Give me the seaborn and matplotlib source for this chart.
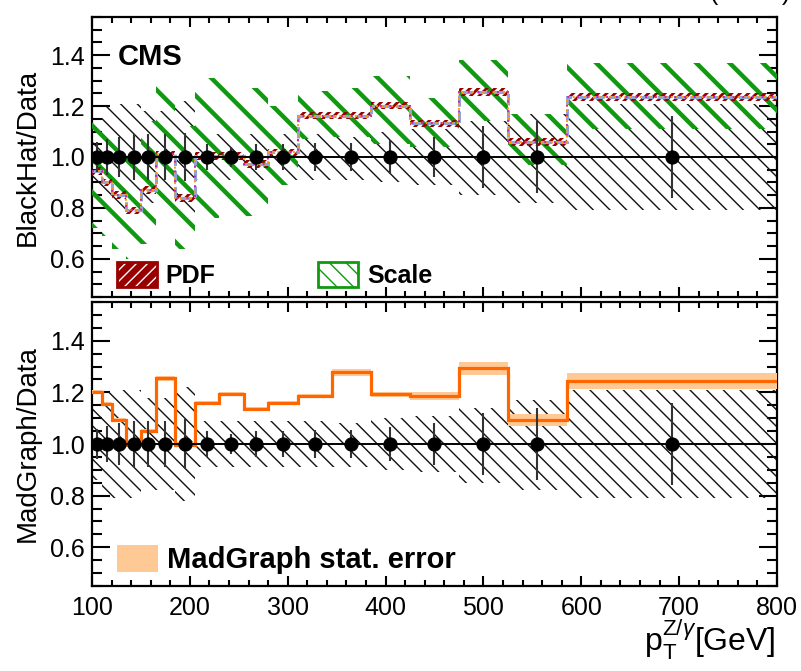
import numpy as np
import pandas as pd
import matplotlib
matplotlib.use("Agg")
import matplotlib.pyplot as plt
import seaborn as sns
from matplotlib.patches import Patch
from matplotlib.legend_handler import HandlerTuple
from matplotlib.ticker import MultipleLocator

# ---------------- data ----------------
bin_edges = [100, 110, 120, 135, 150, 165, 185, 205, 230, 255, 280, 310,
             345, 385, 425, 475, 525, 585, 800]

# data points (ratio = 1) and their statistical error bars
data_err = [0.06, 0.07, 0.08, 0.09, 0.09, 0.09, 0.095, 0.05, 0.04, 0.05,
            0.05, 0.055, 0.055, 0.065, 0.08, 0.12, 0.14, 0.16]
# data systematic band (black hatch)
data_lo = [0.86, 0.80, 0.79, 0.79, 0.82, 0.82, 0.78, 0.91, 0.91, 0.91,
           0.91, 0.91, 0.91, 0.90, 0.89, 0.85, 0.82, 0.79]
data_hi = [1.15, 1.20, 1.21, 1.21, 1.18, 1.18, 1.22, 1.09, 1.09, 1.09,
           1.09, 1.09, 1.08, 1.10, 1.11, 1.14, 1.17, 1.21]

# BlackHat / Data
bh_ratio = [0.945, 0.90, 0.85, 0.79, 0.87, 1.01, 0.84, 1.005, 1.005, 0.973,
            1.018, 1.163, 1.163, 1.202, 1.132, 1.256, 1.06, 1.236]
pdf_err = [0.015] * 18
scale_lo = [0.72, 0.69, 0.64, 0.60, 0.66, 0.76, 0.64, 0.76, 0.77, 0.77,
            0.89, 1.07, 1.08, 1.05, 1.04, 1.14, 0.97, 1.11]
scale_hi = [1.18, 1.15, 1.10, 1.04, 1.14, 1.31, 1.12, 1.31, 1.29, 1.27,
            1.20, 1.26, 1.27, 1.32, 1.23, 1.38, 1.17, 1.37]

# MadGraph / Data
mg_ratio = [1.20, 1.156, 1.093, 0.995, 1.05, 1.254, 0.998, 1.16, 1.194, 1.137,
            1.16, 1.186, 1.277, 1.193, 1.186, 1.294, 1.093, 1.244]
mg_err = [0.008, 0.008, 0.008, 0.008, 0.008, 0.01, 0.008, 0.008, 0.008, 0.008,
          0.008, 0.008, 0.012, 0.01, 0.014, 0.025, 0.024, 0.03]

x_ticks = [100, 200, 300, 400, 500, 600, 700, 800]
y_ticks = [0.6, 0.8, 1.0, 1.2, 1.4]
y_ticklabels = ["0.6", "0.8", "1.0", "1.2", "1.4"]

# ---------------- style ----------------
sns.set_theme(style="ticks")
plt.rcParams["font.family"] = ["Liberation Sans", "DejaVu Sans"]
plt.rcParams["mathtext.fontset"] = "custom"
plt.rcParams["mathtext.rm"] = "Liberation Sans"
plt.rcParams["mathtext.it"] = "Liberation Sans:italic"
plt.rcParams["mathtext.bf"] = "Liberation Sans:bold"
plt.rcParams["text.color"] = "black"
plt.rcParams["axes.labelcolor"] = "black"
plt.rcParams["xtick.color"] = "black"
plt.rcParams["ytick.color"] = "black"
plt.rcParams["axes.edgecolor"] = "black"

GREEN = "#119a11"
DARKRED = "#990000"
ORANGE = "#ff6600"
BAND = "#ffc995"

edges = np.array(bin_edges, dtype=float)
centers = 0.5 * (edges[:-1] + edges[1:])
df = pd.DataFrame({"pt": centers, "ratio": np.ones(len(centers)), "err": data_err})

fig = plt.figure(figsize=(8.01, 6.71), dpi=100)
W, H = 801.0, 671.0
ax1 = fig.add_axes([92 / W, 1 - 297 / H, 685 / W, 280 / H])
ax2 = fig.add_axes([92 / W, 1 - 586 / H, 685 / W, 284 / H])


def hatched_band(ax, lo, hi, color, hatch, hlw, z, fc="none"):
    with plt.rc_context({"hatch.linewidth": hlw}):
        p = ax.stairs(hi, edges, baseline=lo, fill=True, facecolor=fc,
                      edgecolor=color, hatch=hatch, linewidth=0, zorder=z)
    try:
        p.set_hatch_linewidth(hlw)
    except AttributeError:
        pass
    return p


def draw_points(ax):
    ax.axhline(1.0, color="black", lw=1.4, zorder=8)
    ax.errorbar(df["pt"], df["ratio"], yerr=df["err"], fmt="none",
                ecolor="#333333", elinewidth=1.5, capsize=0, zorder=9)
    sns.scatterplot(data=df, x="pt", y="ratio", ax=ax, color="black",
                    edgecolor="black", s=90, zorder=10, legend=False)


# ---------------- top panel ----------------
hatched_band(ax1, data_lo, data_hi, "#111111", "\\\\", 1.0, 2)
hatched_band(ax1, scale_lo, scale_hi, GREEN, "\\", 3.2, 3)
pdf_lo = [v - e for v, e in zip(bh_ratio, pdf_err)]
pdf_hi = [v + e for v, e in zip(bh_ratio, pdf_err)]
hatched_band(ax1, pdf_lo, pdf_hi, DARKRED, "////", 2.0, 4)
ax1.stairs(bh_ratio, edges, baseline=None, color="#8fa3d8", ls="--", lw=2.2, zorder=5)
ax1.stairs(bh_ratio, edges, baseline=None, color="#ff9a00", ls=":", lw=1.4, zorder=6)
ax1.stairs(bh_ratio, edges, baseline=None, color="#cc22bb", ls=(0, (1, 4)), lw=1.4, zorder=6)
draw_points(ax1)

ax1.text((118 - 92) / 685, (297 - 65) / 280, "CMS", transform=ax1.transAxes,
         fontsize=21, fontweight="bold", ha="left", va="baseline")

with plt.rc_context({"hatch.linewidth": 2.0}):
    pdf_fill = Patch(facecolor=DARKRED, edgecolor="white", hatch="///", lw=0)
pdf_edge = Patch(facecolor="none", edgecolor=DARKRED, lw=2)
with plt.rc_context({"hatch.linewidth": 2.5}):
    scale_handle = Patch(facecolor="white", edgecolor=GREEN, hatch="\\\\", lw=2)
ax1.legend([(pdf_fill, pdf_edge), scale_handle], ["PDF", "Scale"],
           handler_map={tuple: HandlerTuple(ndivide=1, pad=0)},
           ncol=2, loc="lower left", bbox_to_anchor=((117 - 92) / 685, (297 - 288) / 280),
           borderaxespad=0, borderpad=0, frameon=False,
           prop={"weight": "bold", "size": 18},
           handlelength=1.6, handleheight=1.2, handletextpad=0.35, columnspacing=4.1)

# ---------------- bottom panel ----------------
hatched_band(ax2, data_lo, data_hi, "#111111", "\\\\", 1.0, 2)
mg_lo = [v - e for v, e in zip(mg_ratio, mg_err)]
mg_hi = [v + e for v, e in zip(mg_ratio, mg_err)]
ax2.stairs(mg_hi, edges, baseline=mg_lo, fill=True, color=BAND, lw=0, zorder=4)
ax2.stairs(mg_ratio, edges, baseline=None, color=ORANGE, lw=2.3, zorder=5)
draw_points(ax2)

ax2.legend([Patch(facecolor=BAND, edgecolor="none")], ["MadGraph stat. error"],
           loc="lower left", bbox_to_anchor=((117 - 92) / 685, (586 - 574) / 284),
           borderaxespad=0, borderpad=0, frameon=False,
           prop={"weight": "bold", "size": 21},
           handlelength=1.4, handleheight=1.05, handletextpad=0.3)

# ---------------- axes ----------------
for ax, lab in [(ax1, "BlackHat/Data"), (ax2, "MadGraph/Data")]:
    ax.set_xlim(100, 800)
    ax.set_ylim(0.45, 1.55)
    ax.set_xticks(x_ticks)
    ax.set_yticks(y_ticks)
    ax.set_yticklabels(y_ticklabels)
    ax.xaxis.set_minor_locator(MultipleLocator(20))
    ax.yaxis.set_minor_locator(MultipleLocator(0.05))
    ax.tick_params(which="both", direction="in", top=True, right=True,
                   width=1.5, colors="black", labelsize=18)
    ax.tick_params(axis="y", which="major", length=13, pad=5)
    ax.tick_params(axis="y", which="minor", length=7)
    ax.tick_params(axis="x", which="major", length=7, pad=7)
    ax.tick_params(axis="x", which="minor", length=4)
    ax.set_ylabel(lab, fontsize=20, color="black")
    ax.yaxis.set_label_coords(-0.075, 0.5)
    ax.set_xlabel("")
    for s in ax.spines.values():
        s.set_linewidth(1.6)
        s.set_color("black")
        s.set_visible(True)
    ax.set_facecolor("white")

ax1.tick_params(axis="x", labelbottom=False)

fig.text(776 / W, 1 - 652 / H,
         r"$\mathrm{p}_{\mathrm{T}}^{\mathrm{Z/}\gamma}$[GeV]",
         ha="right", va="baseline", fontsize=23)
# header partly outside the canvas, as in the reference
fig.text(710 / W, 1.0, "(8 TeV)", ha="left", va="baseline", fontsize=18)

fig.savefig("out.png", dpi=100, facecolor="white")
